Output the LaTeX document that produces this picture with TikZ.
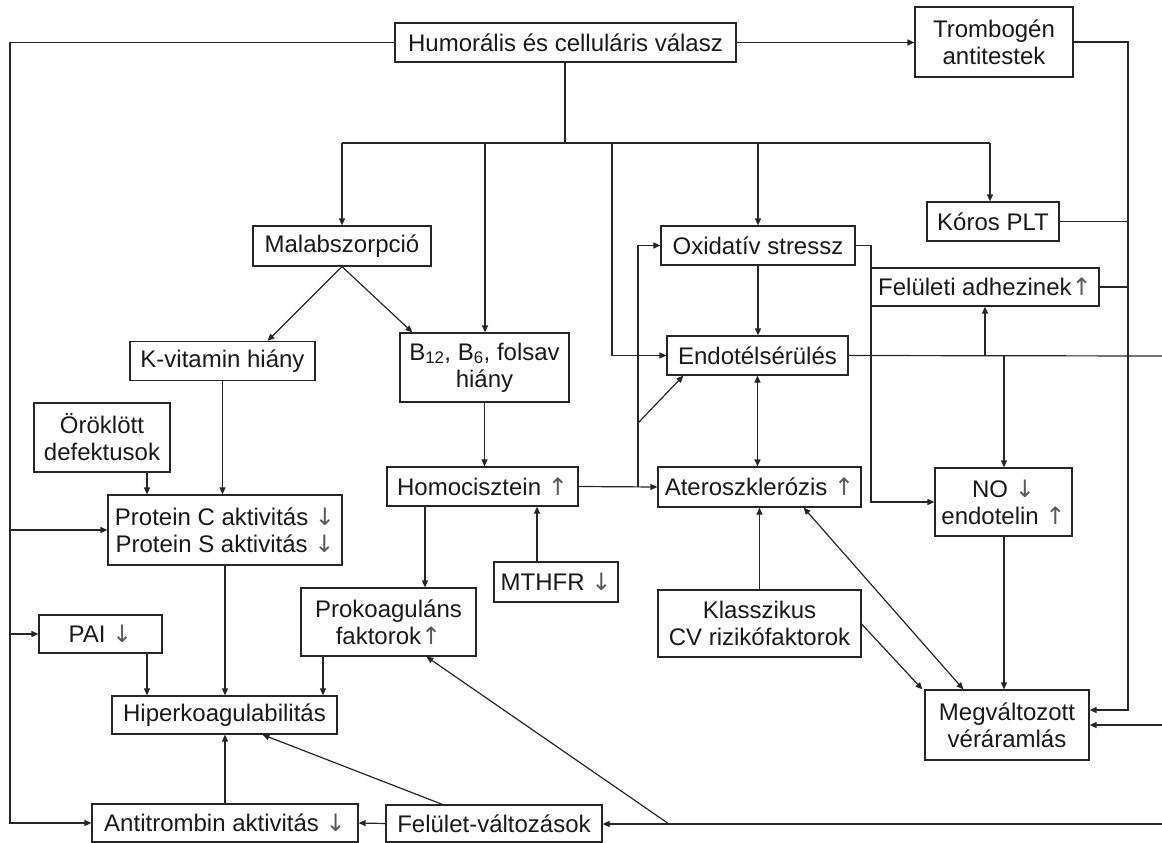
\documentclass[tikz,border=0pt]{standalone}
\usepackage{fontspec}
\setmainfont{Liberation Sans}
\newfontfamily\arrfont{DejaVu Sans}
\newcommand{\arU}{{\arrfont\color{black!65}↑}}
\newcommand{\arD}{{\arrfont\color{black!65}↓}}
\usetikzlibrary{arrows.meta,calc}
\begin{document}
\begin{tikzpicture}[x=1pt,y=-1pt,
  bx/.style={draw=black!85, line width=1.2pt, rectangle, inner sep=0pt, align=center,
    font=\fontsize{24}{27}\selectfont, text=black!90},
  ln/.style={line width=1.2pt, draw=black!85},
  arr/.style={ln, -{Triangle[length=7pt,width=6pt]}},
  darr/.style={ln, {Triangle[length=7pt,width=6pt]}-{Triangle[length=7pt,width=6pt]}}]
\useasboundingbox (0,0) rectangle (1162,843);
% boxes
\node[bx, minimum width=341pt, minimum height=39pt] (H) at (565.5,42.5) {Humorális és celluláris válasz};
\node[bx, minimum width=158pt, minimum height=70pt] (T) at (994,42) {Trombogén\\antitestek};
\node[bx, minimum width=132pt, minimum height=39pt] (K) at (993,221.5) {Kóros PLT};
\node[bx, minimum width=228pt, minimum height=38pt] (F) at (985,287) {Felületi adhezinek\arU};
\node[bx, minimum width=194pt, minimum height=39pt] (O) at (758,245.5) {Oxidatív stressz};
\node[bx, minimum width=181pt, minimum height=39pt] (E) at (757.5,355.5) {Endotélsérülés};
\node[bx, minimum width=137pt, minimum height=68pt] (NO) at (1003.5,502) {NO \arD\\endotelin \arU};
\node[bx, minimum width=164pt, minimum height=70pt] (M) at (1007,725) {Megváltozott\\véráramlás};
\node[bx, minimum width=203pt, minimum height=40pt] (A) at (759.5,487) {Ateroszklerózis \arU};
\node[bx, minimum width=203pt, minimum height=67pt] (Kl) at (759.5,623.5) {Klasszikus\\CV rizikófaktorok};
\node[bx, minimum width=178pt, minimum height=40pt] (Ma) at (342,246) {Malabszorpció};
\node[bx, minimum width=185pt, minimum height=39pt] (Kv) at (222.5,361) {K-vitamin hiány};
\node[bx, minimum width=169pt, minimum height=69pt] (B) at (484.5,367.5) {B\textsubscript{12}, B\textsubscript{6}, folsav\\hiány};
\node[bx, minimum width=191pt, minimum height=39pt] (Ho) at (482.5,486.5) {Homocisztein \arU};
\node[bx, minimum width=124pt, minimum height=40pt] (MT) at (556,582) {MTHFR \arD};
\node[bx, minimum width=136pt, minimum height=69pt] (Or) at (102,437.5) {Öröklött\\defektusok};
\node[bx, minimum width=234pt, minimum height=70pt] (P) at (225,530) {Protein C aktivitás \arD\\Protein S aktivitás \arD};
\node[bx, minimum width=123pt, minimum height=38pt] (PAI) at (100.5,634) {PAI \arD};
\node[bx, minimum width=175pt, minimum height=68pt] (Pk) at (388.5,622) {Prokoaguláns\\faktorok\arU};
\node[bx, minimum width=225pt, minimum height=38pt] (Hk) at (224.5,715) {Hiperkoagulabilitás};
\node[bx, minimum width=266pt, minimum height=38pt] (At) at (225,823) {Antitrombin aktivitás \arD};
\node[bx, minimum width=216pt, minimum height=37pt] (Fv) at (494,823.5) {Felület-változások};
% helper coordinates
\coordinate (lt) at (10,42.5);
\coordinate (rt) at (1128,42);
\coordinate (rb) at (1128,710);
\coordinate (re1) at (1162,356);
\coordinate (re2) at (1162,725);
\coordinate (re3) at (1162,824);
\coordinate (tc) at (565,143);
\coordinate (tl) at (342,143);
\coordinate (tr) at (990,143);
\coordinate (t2) at (485,143);
\coordinate (t3) at (612,143);
\coordinate (t4) at (758,143);
\coordinate (j1) at (638,487);
\coordinate (j2) at (638,423);
\coordinate (j3) at (871,245.5);
\coordinate (j4) at (871,502);
\coordinate (j5) at (985,356);
\coordinate (j6) at (1004,356);
\coordinate (j7) at (669,824);
\coordinate (x147) at (147,0);
\coordinate (x323) at (323,0);
\coordinate (x425) at (425,0);
\coordinate (x537) at (537,0);
% left frame
\draw[arr] (H.west) -- (lt) -- (lt |- At.west) -- (At.west);
\draw[arr] (lt |- P.west) -- (P.west);
\draw[arr] (lt |- PAI.west) -- (PAI.west);
% top right
\draw[arr] (H.east) -- (H.east -| T.west);
\draw[arr] (T.east) -- (T.east -| rt) -- (rb) -- (rb -| M.east);
\draw[ln] (K.east) -- (K.east -| rt);
\draw[ln] (F.east) -- (F.east -| rt);
\draw[arr] (re2) -- (re2 -| M.east);
% tree
\draw[ln] (H.south -| tc) -- (tc);
\draw[ln] (tl) -- (tr);
\draw[arr] (tl) -- (Ma.north);
\draw[arr] (t2) -- (t2 |- B.north);
\draw[arr] (t3) |- (E.west);
\draw[arr] (t4) -- (t4 |- O.north);
\draw[arr] (tr) -- (tr |- K.north);
% malabsorption
\draw[arr] (Ma.south) -- ([xshift=45pt]Kv.north);
\draw[arr] (Ma.south) -- ([xshift=13pt]B.north west);
\draw[arr] (B.south) -- (B.south |- Ho.north);
\draw[arr] (Kv.south) -- (Kv.south |- P.north);
\draw[arr] (Or.south -| x147) -- (P.north -| x147);
\draw[arr] (P.south) -- (P.south |- Hk.north);
\draw[arr] (PAI.south -| x147) -- (Hk.north -| x147);
\draw[arr] (Pk.south -| x323) -- (Hk.north -| x323);
\draw[arr] (Ho.south -| x425) -- (Pk.north -| x425);
\draw[arr] (MT.north -| x537) -- (Ho.south -| x537);
% homocysteine to atherosclerosis etc.
\draw[arr] (Ho.east) -- (A.west);
\draw[arr] (j1) |- (O.west);
\draw[arr] (j2) -- ([xshift=17pt]E.south west);
% central column
\draw[arr] (O.south) -- (O.south |- E.north);
\draw[darr] (E.south) -- (E.south |- A.north);
\draw[arr] (Kl.north) -- (Kl.north |- A.south);
\draw[arr] ([yshift=-0.5pt]Kl.east) -- ([xshift=-2pt]M.north west);
\draw[darr] ([xshift=-58pt]A.south east) -- ([xshift=39pt]M.north west);
% endothelium right
\draw[ln] (E.east) -- (re1);
\draw[arr] (j5) -- (F.south);
\draw[arr] (j6) -- (j6 |- NO.north);
\draw[arr] (O.east) -- (j3) -- (j4) -- (NO.west);
\draw[arr] (NO.south -| j6) -- (M.north -| j6);
% bottom
\draw[arr] (re3) -- (re3 -| Fv.east);
\draw[arr] (j7) -- ([xshift=126pt]Pk.south west);
\draw[arr] ([xshift=57pt]Fv.north west) -- ([xshift=151pt]Hk.south west);
\draw[arr] (At.north) -- (At.north |- Hk.south);
\draw[arr] (Fv.west) -- (At.east);
\end{tikzpicture}
\end{document}
